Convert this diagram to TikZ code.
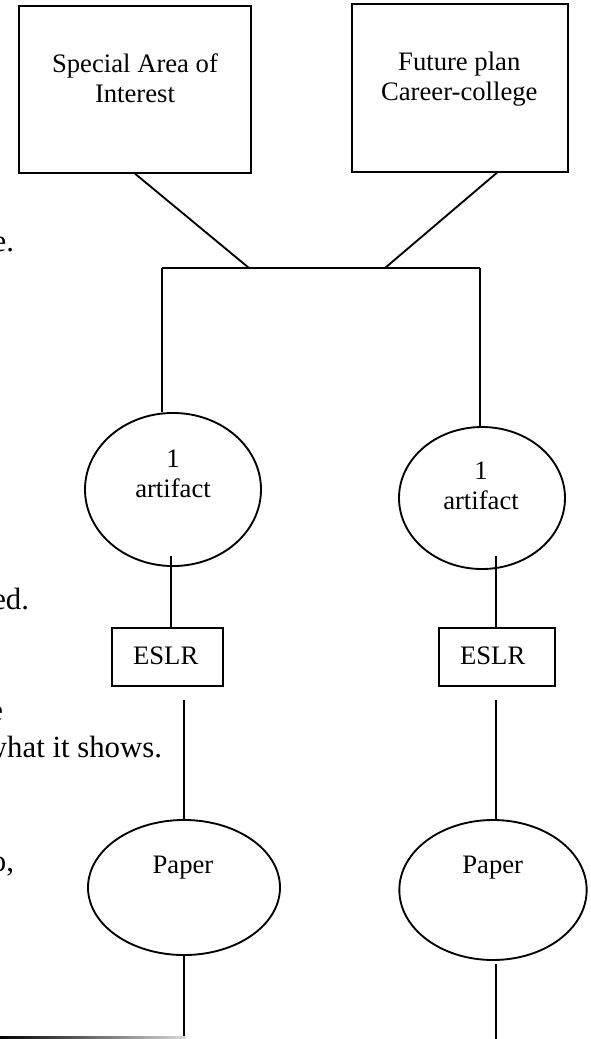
\documentclass[tikz,border=0pt]{standalone}
\usepackage{fontspec}
\setmainfont{Liberation Serif}
\usetikzlibrary{shapes.geometric,calc,positioning}

\begin{document}
\begin{tikzpicture}[x=0.75pt,y=-0.75pt,line width=1.4pt]
	\tikzstyle{every node} = [draw = black, line width = 1.4pt, inner sep = 0pt, align = center, font = \fontsize{20}{22.5}\selectfont]
	\tikzstyle{box} = [rectangle]
	\tikzstyle{oval} = [ellipse]
	\tikzstyle{word} = [draw = none]
	\tikzstyle{page} = [draw = none, anchor = base east, font = \fontsize{23.1}{27.75}\selectfont]
\clip (0,0) rectangle (591,1039);
\node[box, minimum width = 173.5pt, minimum height = 125pt] (1) at (135,89.4) {};
\node[box, minimum width = 162.2pt, minimum height = 125.8pt] (2) at (459.9,87.9) {};
\node[oval, minimum width = 132pt, minimum height = 114.8pt] (3) at (173,489.5) {};
\node[oval, minimum width = 124.5pt, minimum height = 106.5pt] (4) at (482,498) {};
\node[box, minimum width = 83.3pt, minimum height = 43.5pt] (5) at (167.2,657) {};
\node[box, minimum width = 86.8pt, minimum height = 43.5pt] (6) at (497.2,657) {};
\node[oval, minimum width = 144pt, minimum height = 101.3pt] (7) at (184,887.5) {};
\node[oval, minimum width = 140.5pt, minimum height = 105pt] (8) at (493,890) {};
\node[word] (t1) at (135,78.6) {Special Area of\\Interest};
\node[word] (t2) at (459.3,79.2) {Future plan\\Career-college};
\node[word] (t3) at (173,474.3) {1\\artifact};
\node[word] (t4) at (481,486.3) {1\\artifact};
\node[word, anchor = base] (t5) at (165.7,664) {ESLR};
\node[word, anchor = base] (t6) at (492.7,664) {ESLR};
\node[word, anchor = base] (t7) at (183,873) {Paper};
\node[word, anchor = base] (t8) at (492.7,873) {Paper};
	\coordinate (j0) at (161.7,268);
	\coordinate (j1) at (249,268);
	\coordinate (j2) at (385,268);
	\coordinate (j3) at (480,268);
	\coordinate (a3) at (170.7,556);
	\coordinate (a4) at (495.7,556);
	\coordinate (e5) at (184,700);
	\coordinate (e6) at (495.7,700);
	\coordinate (z7) at (184,1039);
	\coordinate (p8) at (495.7,964);
	\coordinate (z8) at (495.7,1039);
	\path[draw] (1.south) -- (j1);
	\path[draw] ($(2.south east)!0.33!(2.south west)$) -- (j2);
	\path[draw] (j0) -- (j3);
	\path[draw] (j0) -- (j0 |- 3.north);
	\path[draw] (j3) -- (j3 |- 4.north);
	\path[draw] (a3) -- (a3 |- 5.north);
	\path[draw] (a4) -- (a4 |- 6.north);
	\path[draw] (e5) -- (e5 |- 7.north);
	\path[draw] (e6) -- (e6 |- 8.north);
	\path[draw] (7.south) -- (z7);
	\path[draw] (p8) -- (z8);
\node[page] (p1) at (15,251) {e.};
\node[page] (p2) at (30,609) {ed.};
\node[page] (p3) at (4,720) {e};
\node[page] (p4) at (163,757) {what it shows.};
\node[page] (p5) at (15,871) {o,};
	\shade[left color = black, right color = black!15] (0,1036.5) rectangle (186,1039);
	\end{tikzpicture}
\end{document}
